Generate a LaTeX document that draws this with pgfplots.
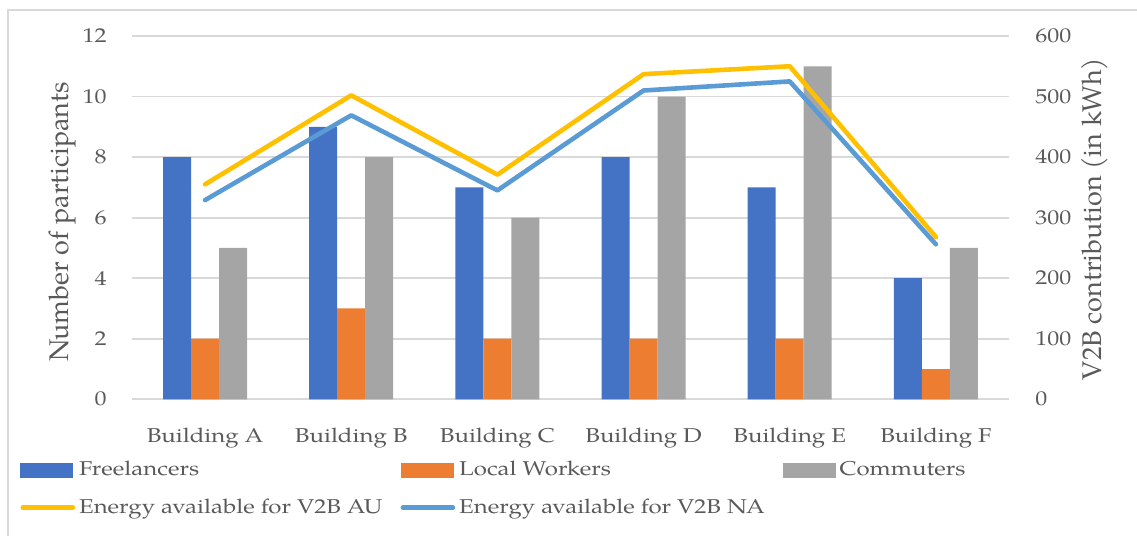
\documentclass[border=0pt]{standalone}
\usepackage{fontspec}
\setmainfont{TeX Gyre Pagella}[FakeStretch=1.2]
\newfontfamily\labelfont{TeX Gyre Pagella}
\usepackage{pgfplots}
\pgfplotsset{compat=1.18}
\definecolor{cBlue}{HTML}{4472C4}
\definecolor{cOrange}{HTML}{ED7D31}
\definecolor{cGray}{HTML}{A5A5A5}
\definecolor{cYellow}{HTML}{FFC000}
\definecolor{cLBlue}{HTML}{5B9BD5}
\definecolor{cText}{HTML}{595959}
\definecolor{cGrid}{HTML}{D9D9D9}
\begin{document}
\begin{tikzpicture}
\path[use as bounding box] (0pt,0pt) rectangle (568.5pt,268pt);
\draw[cGrid, line width=1pt] (4pt,0pt) -- (4pt,263pt) -- (568.5pt,263pt);
\begin{axis}[
  at={(66pt,68.35pt)}, anchor=south west,
  scale only axis, width=438.5pt, height=181.65pt,
  xmin=-0.5, xmax=5.5, ymin=0, ymax=12,
  ytick={0,2,...,12},
  xtick={0,1,2,3,4,5},
  xticklabels={Building A,Building B,Building C,Building D,Building E,Building F},
  ybar=0pt, bar width=14pt,
  axis line style={draw=none},
  major tick length=0pt,
  ymajorgrids, grid style={color=cGrid, line width=0.9pt},
  /pgf/number format/assume math mode=true,
  tick label style={font=\fontsize{10}{12}\selectfont, text=cText},
  yticklabel style={anchor=east, inner sep=0pt, xshift=-12.5pt},
  xticklabel style={anchor=base, inner sep=0pt, yshift=-21.5pt},
  ylabel={Number of participants},
  ylabel style={font=\labelfont\fontsize{13.5}{16}\selectfont, text=cText,
    at={(axis description cs:-0.0798,0.488)}, anchor=center},
]
\addplot[fill=cBlue, draw=none] coordinates {(0,8) (1,9) (2,7) (3,8) (4,7) (5,4)};
\addplot[fill=cOrange, draw=none] coordinates {(0,2) (1,3) (2,2) (3,2) (4,2) (5,1)};
\addplot[fill=cGray, draw=none] coordinates {(0,5) (1,8) (2,6) (3,10) (4,11) (5,5)};
\end{axis}
\begin{axis}[
  at={(66pt,68.35pt)}, anchor=south west,
  scale only axis, width=438.5pt, height=181.65pt,
  xmin=-0.5, xmax=5.5, ymin=0, ymax=600,
  ytick={0,100,...,600},
  axis y line*=right, axis x line=none,
  axis line style={draw=none},
  major tick length=0pt,
  /pgf/number format/assume math mode=true,
  tick label style={font=\fontsize{10}{12}\selectfont, text=cText},
  yticklabel style={anchor=west, inner sep=0pt, xshift=13pt},
  ylabel={V2B contribution (in kWh)},
  ylabel style={font=\labelfont\fontsize{13.5}{16}\selectfont, text=cText,
    at={(axis description cs:1.098,0.496)}, anchor=center, rotate=0},
  legend style={at={(axis description cs:-0.1277,-0.2469)}, anchor=west,
    legend columns=3, draw=none, fill=none, inner sep=0pt,
    font=\fontsize{10}{12}\selectfont, text=cText, row sep=6pt,
    /tikz/every even column/.append style={column sep=7pt},
    cells={anchor=west}},
]
\addlegendimage{legend image code/.code={\fill[cBlue] (0pt,-3.5pt) rectangle (26pt,3.5pt);}}
\addlegendentry{Freelancers}
\addlegendimage{legend image code/.code={\fill[cOrange] (0pt,-3.5pt) rectangle (26pt,3.5pt);}}
\addlegendentry{Local Workers}
\addlegendimage{legend image code/.code={\fill[cGray] (0pt,-3.5pt) rectangle (26pt,3.5pt);}}
\addlegendentry{Commuters}
\addplot[cYellow, line width=2.3pt, line cap=round, line join=round, mark=none,
  legend image code/.code={\draw[cYellow, line width=2.3pt, line cap=round] (1pt,0pt) -- (26pt,0pt);}]
  coordinates {(0,355) (1,502) (2,371) (3,537) (4,550) (5,268)};
\addlegendentry{Energy available for V2B AU}
\addplot[cLBlue, line width=2.3pt, line cap=round, line join=round, mark=none,
  legend image code/.code={\draw[cLBlue, line width=2.3pt, line cap=round] (1pt,0pt) -- (26pt,0pt);}]
  coordinates {(0,329) (1,469) (2,345) (3,510) (4,525) (5,256)};
\addlegendentry{Energy available for V2B NA}
\end{axis}
\end{tikzpicture}
\end{document}
